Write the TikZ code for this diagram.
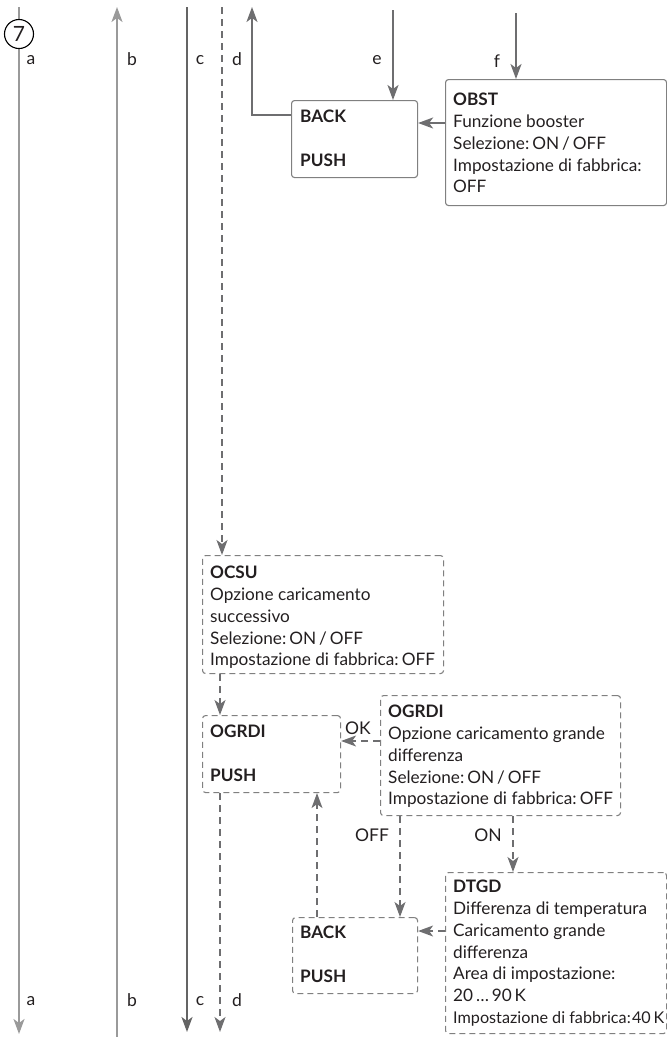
\documentclass[tikz,border=0pt]{standalone}
\usepackage{fontspec}
\setmainfont{Lato}
\usetikzlibrary{arrows.meta}
\definecolor{txt}{HTML}{231F20}
\definecolor{lgray}{HTML}{9A9A9A}
\definecolor{dgray}{HTML}{646464}
\definecolor{agray}{HTML}{6E6E70}
\definecolor{bgray}{HTML}{808080}
\newcommand{\csp}{\hspace{0.18em}}
\begin{document}
\begin{tikzpicture}[x=1pt,y={(0pt,-1pt)},
  tip/.style={-{Stealth[length=15pt,width=11pt,inset=4pt]}},
  tipb/.style={{Stealth[length=15pt,width=11pt,inset=4pt]}-},
  lline/.style={draw=lgray,line width=1.8pt},
  dline/.style={draw=dgray,line width=1.8pt},
  aline/.style={draw=agray,line width=1.8pt},
  dsh/.style={draw=agray,line width=1.4pt,dash pattern=on 7pt off 5pt},
  sbox/.style={draw=bgray,line width=1.1pt,rounded corners=3pt,inner sep=0pt,anchor=north west},
  dbox/.style={draw=bgray,line width=1.1pt,rounded corners=3pt,inner sep=0pt,anchor=north west,dash pattern=on 6pt off 4pt},
  blk/.style={anchor=north west,inner sep=0pt,align=left,text=txt,font=\fontsize{17.2}{21.8}\selectfont},
  lbl/.style={inner sep=0pt,text=txt,font=\fontsize{17.5}{19}\selectfont},
  every node/.append style={text=txt}
]
\useasboundingbox (0,0) rectangle (667,1037);
% boxes
\node[sbox,minimum width=126pt,minimum height=77pt] (backA) at (291,100) {};
\node[sbox,minimum width=221pt,minimum height=126pt] (obst) at (445,79) {};
\node[dbox,minimum width=241pt,minimum height=118pt] (ocsu) at (202,555) {};
\node[dbox,minimum width=138pt,minimum height=77pt] (ogp) at (202,715) {};
\node[dbox,minimum width=240pt,minimum height=120pt] (ogb) at (380,695) {};
\node[dbox,minimum width=125pt,minimum height=76pt] (backB) at (292,917) {};
\node[dbox,minimum width=221pt,minimum height=161pt] (dtgd) at (445,872) {};
% texts
\node[blk] (backAt) at (300,110) {\textbf{BACK}\\[21.8pt]\textbf{PUSH}};
\node[blk] (obstt) at (453,93) {\textbf{OBST}\\Funzione booster\\Selezione:\csp ON\,/\,OFF\\Impostazione di fabbrica:\\OFF};
\node[blk] (ocsut) at (210,566) {\textbf{OCSU}\\Opzione caricamento\\successivo\\Selezione:\csp ON\,/\,OFF\\Impostazione di fabbrica:\csp OFF};
\node[blk] (ogpt) at (210,725) {\textbf{OGRDI}\\[21.8pt]\textbf{PUSH}};
\node[blk] (ogbt) at (388,705) {\textbf{OGRDI}\\Opzione caricamento grande\\differenza\\Selezione:\csp ON\,/\,OFF\\Impostazione di fabbrica:\csp OFF};
\node[blk] (backBt) at (300,926) {\textbf{BACK}\\[21.8pt]\textbf{PUSH}};
\node[blk] (dtgdt) at (453,880) {\textbf{DTGD}\\Differenza di temperatura\\Caricamento grande\\differenza\\Area di impostazione:\\20\,\dots\,90\,K\\{\fontsize{16.2}{21.8}\selectfont Impostazione di fabbrica:\hspace{0.08em}40\,K}};
% coordinates
\coordinate (aT) at (19,7); \coordinate (aB) at (19,1034);
\coordinate (bT) at (117,7); \coordinate (bB) at (117,1037);
\coordinate (cT) at (187,7); \coordinate (cB) at (187,1032);
\coordinate (dT) at (222,7);
\coordinate (dB) at (220,1032);
\coordinate (upT) at (252,7); \coordinate (upC) at (252,115);
\coordinate (eT) at (393,10);
\coordinate (fT) at (516,13);
% vertical lines
\draw[lline,tip] (aT) -- (aB);
\draw[lline,tipb] (bT) -- (bB);
\draw[dline,tip] (cT) -- (cB);
\draw[dsh,tip] (dT) -- (dT |- ocsu.north);
\draw[dsh,tip] (ocsu.south -| 220,0) -- (ogp.north -| 220,0);
\draw[dsh,tip] (ogp.south -| dB) -- (dB);
% top arrows
\draw[aline,tip] (backA.west |- upC) -- (upC) -- (upT);
\draw[aline,tip] (eT) -- (backA.north -| eT);
\draw[aline,tip] (fT) -- (obst.north -| fT);
\draw[aline,tip] (obst.west |- 0,123) -- (backA.east |- 0,123);
% lower arrows
\draw[dsh,tip] (ogb.west |- 0,741) -- (ogp.east |- 0,741);
\draw[dsh,tip] (ogb.south -| 400,0) -- (backB.north -| 400,0);
\draw[dsh,tip] (ogb.south -| 513,0) -- (dtgd.north -| 513,0);
\draw[dsh,tip] (backB.north -| 317,0) -- (ogp.south -| 317,0);
\draw[dsh,tip] (dtgd.west |- 0,931) -- (backB.east |- 0,931);
% circle
\node[circle,draw=black,fill=white,line width=1.1pt,minimum size=29pt,inner sep=0pt,font=\fontsize{21}{22}\selectfont] (c7) at (19,34) {7};
% labels
\node[lbl] (la1) at (31,60) {a};
\node[lbl] (lb1) at (132,59) {b};
\node[lbl] (lc1) at (200,60) {c};
\node[lbl] (ld1) at (237,59) {d};
\node[lbl] (le) at (377,60) {e};
\node[lbl] (lf) at (497,61) {f};
\node[lbl] (la2) at (31,1001) {a};
\node[lbl] (lb2) at (132,1000) {b};
\node[lbl] (lc2) at (200,1001) {c};
\node[lbl] (ld2) at (237,1000) {d};
\node[lbl] (lok) at (358,728) {OK};
\node[lbl] (loff) at (372,835) {OFF};
\node[lbl] (lon) at (488,835) {ON};
\end{tikzpicture}
\end{document}
